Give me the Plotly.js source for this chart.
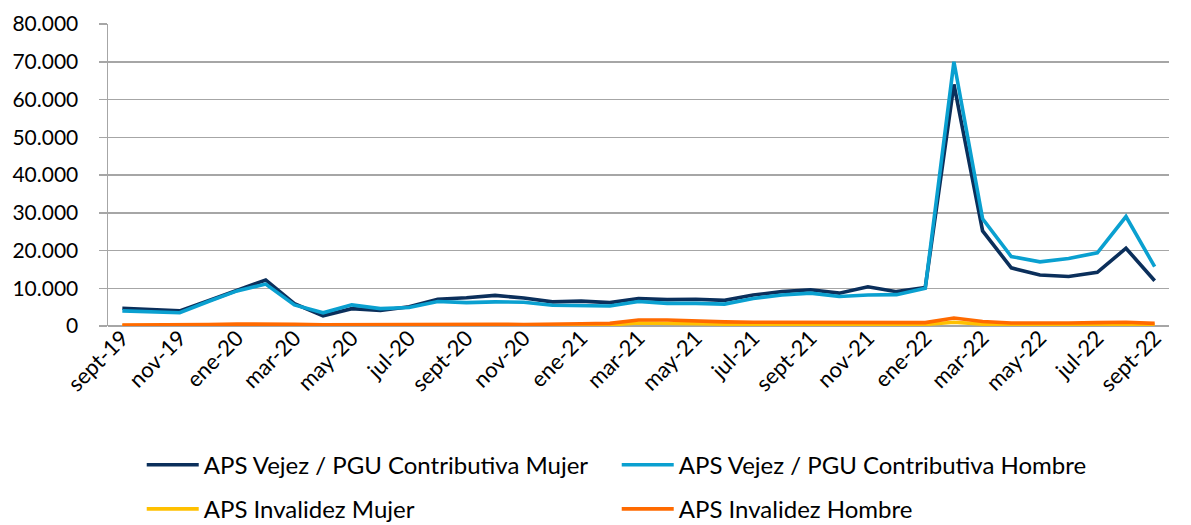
<!DOCTYPE html>
<html>
<head>
<meta charset="utf-8">
<script src="https://cdn.plot.ly/plotly-3.0.1.min.js"></script>
<style>html,body{margin:0;padding:0;background:#fff;}#chart{width:1191px;height:525px;}</style>
</head>
<body>
<div id="chart"></div>
<script>
const months = ["sept-19","oct-19","nov-19","dic-19","ene-20","feb-20","mar-20","abr-20","may-20","jun-20","jul-20","ago-20",
  "sept-20","oct-20","nov-20","dic-20","ene-21","feb-21","mar-21","abr-21","may-21","jun-21","jul-21","ago-21",
  "sept-21","oct-21","nov-21","dic-21","ene-22","feb-22","mar-22","abr-22","may-22","jun-22","jul-22","ago-22","sept-22"];

const vejezMujer = [4700,4300,4000,6700,9500,12200,5900,2700,4600,4100,5100,7100,
  7500,8100,7400,6400,6600,6200,7300,7000,7100,6800,8200,9100,
  9600,8700,10400,9100,10200,64000,25200,15400,13500,13100,14200,20600,12000];

const vejezHombre = [4000,3700,3500,6500,9300,11100,5600,3500,5600,4600,4900,6500,
  6200,6400,6300,5500,5500,5300,6500,6000,6000,5800,7300,8200,
  8700,7800,8200,8300,10000,70000,28400,18400,17000,17900,19400,29000,15700];

const invalidezMujer = [100,100,120,150,200,220,180,150,150,150,150,180,
  200,180,150,150,250,300,800,800,600,500,450,450,
  400,400,450,400,400,1000,500,350,300,350,400,450,300];

const invalidezHombre = [250,250,300,400,500,550,450,350,400,400,400,450,
  500,450,400,400,600,700,1600,1600,1300,1100,1000,1000,
  900,900,1000,900,900,2100,1200,800,700,800,900,1000,700];

const seriesNames = ["APS Vejez / PGU Contributiva Mujer","APS Vejez / PGU Contributiva Hombre",
  "APS Invalidez Mujer","APS Invalidez Hombre"];
const seriesColors = ["#0b2f5b","#0aa0d0","#ffc000","#ff6a00"];
const seriesData = [vejezMujer, vejezHombre, invalidezMujer, invalidezHombre];
const legendIds = ["legend","legend","legend2","legend2"];

const FONT = "Lato, 'Open Sans', sans-serif";

const traces = seriesData.map((vals, k) => ({
  type: "scatter",
  mode: "lines",
  x: months,
  y: vals,
  name: seriesNames[k],
  line: {color: seriesColors[k], width: 3.6},
  legend: legendIds[k],
  hoverinfo: "skip"
}));

const tickMonths = months.filter((m, i) => i % 2 === 0);

function legendBox(yc) {
  return {
    orientation: "h",
    xref: "container", yref: "container",
    x: 0.119, xanchor: "left",
    y: yc, yanchor: "middle",
    entrywidth: 408, entrywidthmode: "pixels",
    itemwidth: 52,
    font: {family: FONT, size: 24, color: "#000000"},
    bgcolor: "rgba(0,0,0,0)",
    traceorder: "normal"
  };
}

const layout = {
  width: 1191,
  height: 525,
  margin: {l: 108, r: 22, t: 24, b: 199},
  paper_bgcolor: "#ffffff",
  plot_bgcolor: "#ffffff",
  separators: ",.",
  font: {family: FONT, size: 20, color: "#000000"},
  showlegend: true,
  xaxis: {
    type: "category",
    range: [-0.5, months.length - 0.5],
    tickvals: tickMonths,
    ticktext: tickMonths,
    tickangle: -45,
    tickfont: {family: FONT, size: 22, color: "#000000"},
    ticklabelstandoff: -6,
    showgrid: false,
    zeroline: false,
    showline: false,
    ticks: "",
    automargin: false
  },
  yaxis: {
    range: [0, 80000],
    dtick: 10000,
    tick0: 0,
    tickformat: ",.0f",
    tickfont: {family: FONT, size: 21, color: "#000000"},
    ticklabelstandoff: 16,
    showgrid: true,
    gridcolor: "#a6a6a6",
    gridwidth: 1.5,
    zeroline: true,
    zerolinecolor: "#a6a6a6",
    zerolinewidth: 1.5,
    showline: true,
    linecolor: "#a6a6a6",
    linewidth: 1.5,
    ticks: "outside",
    ticklen: 8,
    tickcolor: "#a6a6a6",
    tickwidth: 1.5,
    automargin: false
  },
  legend: legendBox(0.114),
  legend2: legendBox(0.03)
};

Plotly.newPlot("chart", traces, layout, {displayModeBar: false, staticPlot: true});
</script>
</body>
</html>
